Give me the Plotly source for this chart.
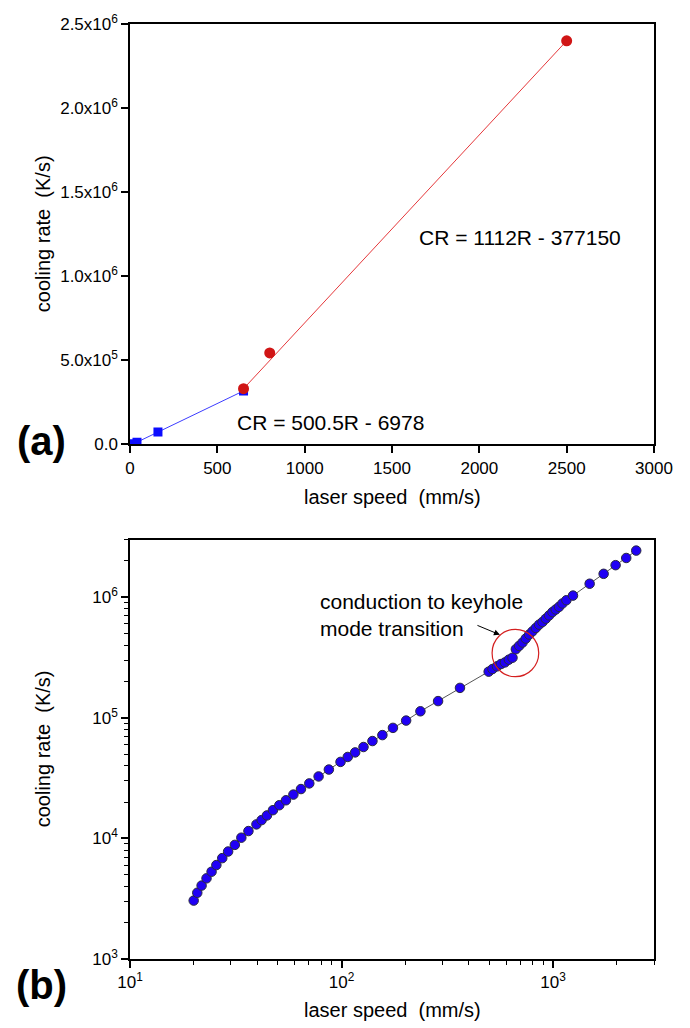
import plotly.graph_objects as go

# ---------------- data (a) ----------------
cond_speed = [20, 40, 160, 650]
cond_rate = [3000, 13000, 73000, 318000]
key_speed = [650, 800, 2500]
key_rate = [331000, 544000, 2400000]
key_fit_speed = [650, 2500]
key_fit_rate = [331000, 2400000]
a_xticks = [0, 500, 1000, 1500, 2000, 2500, 3000]
a_yticks = [0, 5e5, 1e6, 1.5e6, 2e6, 2.5e6]
a_ytext = ["0.0", "5.0x10<sup>5</sup>", "1.0x10<sup>6</sup>", "1.5x10<sup>6</sup>",
           "2.0x10<sup>6</sup>", "2.5x10<sup>6</sup>"]

# ---------------- data (b) ----------------
speed_b = [20, 20.8, 21.8, 23.0, 24.3, 25.6, 27.3, 29.1, 31.3, 33.6,
           36.3, 39.6, 41.9, 44.4, 47.4, 50.8, 54.6, 59.2, 64.3, 70.4,
           77.9, 87.1, 98.9, 107, 116, 127, 140, 156, 175, 202,
           236, 286, 363, 496, 517, 543, 567, 592, 618, 643,
           667, 691, 717, 743, 771, 799, 829, 859, 891, 924,
           958, 993, 1029, 1067, 1107, 1156, 1242,
           1489, 1734, 1975, 2217, 2472]
rate_b = [3050, 3540, 4060, 4660, 5290, 6010, 6860, 7780, 8830, 10130,
          11500, 13060, 14170, 15490, 17130, 18830, 20690, 23060, 25630, 28550,
          32600, 37200, 43050, 47300, 51600, 57200, 64100, 71800, 82400, 94700,
          113100, 137400, 176800, 241000, 253400, 266600, 278600, 287600, 302900, 314500,
          370000, 394000, 420000, 453000, 489000, 520000, 555000, 591000, 622000, 662000,
          705000, 751000, 789000, 830000, 885000, 942000, 1029000,
          1291000, 1560000, 1840000, 2110000, 2430000]
b_xticks = [10, 100, 1000]
b_xtext = ["10<sup>1</sup>", "10<sup>2</sup>", "10<sup>3</sup>"]
b_yticks = [1e3, 1e4, 1e5, 1e6]
b_ytext = ["10<sup>3</sup>", "10<sup>4</sup>", "10<sup>5</sup>", "10<sup>6</sup>"]
b_xminor = [m * 10 ** e for e in range(1, 4) for m in range(2, 10) if m * 10 ** e <= 3000]
b_yminor = [m * 10 ** e for e in range(3, 7) for m in range(2, 10) if m * 10 ** e <= 3e6]

FONT = "Liberation Sans, Arial, sans-serif"

fig = go.Figure()

# (a)
fig.add_trace(go.Scatter(x=cond_speed, y=cond_rate, mode="lines+markers",
                         line=dict(color="#3c3cff", width=1),
                         marker=dict(symbol="square", size=9, color="#0c0cff"),
                         xaxis="x", yaxis="y", showlegend=False))
fig.add_trace(go.Scatter(x=key_fit_speed, y=key_fit_rate, mode="lines",
                         line=dict(color="#e5383b", width=1),
                         xaxis="x", yaxis="y", showlegend=False))
fig.add_trace(go.Scatter(x=key_speed, y=key_rate, mode="markers",
                         marker=dict(symbol="circle", size=11, color="#d01515"),
                         xaxis="x", yaxis="y", showlegend=False))

# (b)
fig.add_trace(go.Scatter(x=speed_b, y=rate_b, mode="lines+markers",
                         line=dict(color="#555555", width=1),
                         marker=dict(symbol="circle", size=9.5, color="#2000f5",
                                     line=dict(color="#2a2a40", width=1)),
                         xaxis="x2", yaxis="y2", showlegend=False))

axis_common = dict(showline=True, linecolor="black", linewidth=1.5, mirror=True,
                   ticks="outside", ticklen=7, tickwidth=1.5, tickcolor="black",
                   showgrid=False, zeroline=False,
                   tickfont=dict(family=FONT, size=17, color="black"))

H_TOP = 0.5504
fig.update_layout(
    width=690, height=1028,
    margin=dict(l=130, r=36, t=16, b=69),
    paper_bgcolor="white", plot_bgcolor="white",
    font=dict(family=FONT, color="black"),
    xaxis=dict(domain=[0, 1], anchor="y", range=[0, 3000], tickmode="array",
               tickvals=a_xticks, **axis_common),
    yaxis=dict(domain=[H_TOP, 1], anchor="x", range=[0, 2.5e6], tickmode="array",
               tickvals=a_yticks, ticktext=a_ytext, **axis_common),
    xaxis2=dict(domain=[0, 1], anchor="y2", type="log", range=[1, 3.4771],
                tickmode="array", tickvals=b_xticks, ticktext=b_xtext,
                minor=dict(tickmode="array", tickvals=b_xminor, ticks="outside",
                           ticklen=4, tickwidth=1.2, tickcolor="black", showgrid=False),
                **axis_common),
    yaxis2=dict(domain=[0, 0.4486], anchor="x2", type="log", range=[3, 6.4771],
                tickmode="array", tickvals=b_yticks, ticktext=b_ytext,
                minor=dict(tickmode="array", tickvals=b_yminor, ticks="outside",
                           ticklen=4, tickwidth=1.2, tickcolor="black", showgrid=False),
                **axis_common),
)

ann = []
def txt(text, xref, yref, x, y, size, xshift=0, yshift=0, textangle=0, bold=False,
        xanchor="center", yanchor="middle", align="center"):
    ann.append(dict(text=("<b>%s</b>" % text) if bold else text, xref=xref, yref=yref,
                    x=x, y=y, xshift=xshift, yshift=yshift, showarrow=False,
                    textangle=textangle, xanchor=xanchor, yanchor=yanchor, align=align,
                    font=dict(family=FONT, size=size, color="black")))

# axis titles
txt("laser speed\u00a0 (mm/s)", "x domain", "y domain", 0.5, 0, 20, yshift=-53)
txt("cooling rate\u00a0 (K/s)", "x domain", "y domain", 0, 0.5, 20, xshift=-87, textangle=-90)
txt("laser speed\u00a0 (mm/s)", "x2 domain", "y2 domain", 0.5, 0, 20, yshift=-51)
txt("cooling rate\u00a0 (K/s)", "x2 domain", "y2 domain", 0, 0.5, 20, xshift=-87, textangle=-90)
# panel labels
txt("(a)", "x domain", "y domain", 0, 0, 40, xshift=-89, yshift=3, bold=True)
txt("(b)", "x2 domain", "y2 domain", 0, 0, 40, xshift=-89, yshift=-26, bold=True)
# equations
txt("CR = 1112R - 377150", "x domain", "y domain", 0.744, 0.492, 21)
txt("CR = 500.5R - 6978", "x domain", "y domain", 0.382, 0.052, 21)
# transition note
txt("conduction to keyhole<br>mode transition", "x2 domain", "y2 domain", 0.359, 0.820, 21,
    xanchor="left", align="left")
ann.append(dict(text="", xref="x2 domain", yref="y2 domain", x=0.706, y=0.773,
                ax=-24, ay=-10, showarrow=True, arrowhead=2, arrowsize=1.2,
                arrowwidth=1, arrowcolor="black"))
fig.update_layout(annotations=ann)

fig.add_shape(type="circle", xref="x2 domain", yref="y2 domain",
              x0=0.691, x1=0.780, y0=0.673, y1=0.786,
              line=dict(color="#d42020", width=1.2))

fig.write_html("out.html", config={"displayModeBar": False},
               post_script="document.body.style.margin='0';document.body.style.padding='0';")
